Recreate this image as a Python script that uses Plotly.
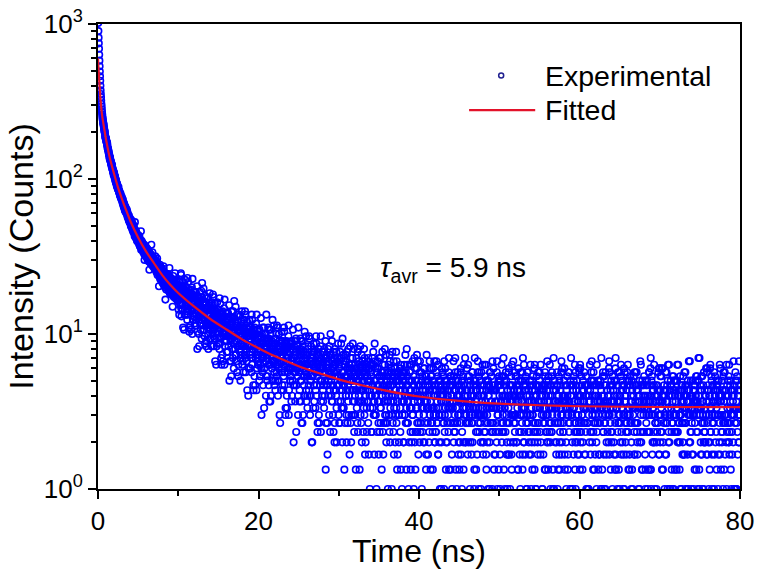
import plotly.graph_objects as go

# ---- data -------------------------------------------------------------
CHANNEL_NS = 0.05            # spacing of each channel list (ns)
OFFSET_B_NS = 0.025          # second interleaved channel list starts here
COUNTS_PER_INTENSITY = 3     # raw counts -> plotted intensity

# raw counts, channels at 0, 0.05, 0.10 ... ns
counts_a_00_10 = [
    3400, 2700, 2250, 1900, 1600, 1380, 1200, 1060, 960, 880,
    810, 760, 722, 690, 668, 640, 615, 598, 566, 552,
    548, 521, 515, 508, 476, 470, 455, 438, 430, 407,
    412, 392, 388, 380, 362, 371, 348, 341, 339, 320,
    330, 312, 315, 298, 290, 296, 281, 270, 275, 262,
    258, 266, 250, 252, 241, 236, 242, 229, 223, 230,
    219, 214, 220, 205, 201, 209, 196, 188, 199, 185,
    182, 192, 180, 176, 181, 170, 165, 174, 160, 158,
    167, 155, 149, 163, 150, 146, 154, 139, 143, 150,
    138, 133, 158, 131, 127, 137, 124, 130, 119, 131,
    121, 118, 129, 113, 122, 110, 119, 138, 108, 112,
    117, 104, 115, 101, 109, 113, 90, 106, 111, 96,
    103, 108, 94, 99, 105, 91, 97, 102, 78, 95,
    99, 86, 93, 113, 84, 90, 95, 82, 91, 87,
    80, 89, 84, 95, 86, 81, 75, 88, 79, 74,
    83, 76, 61, 81, 77, 68, 79, 73, 66, 78,
    71, 64, 76, 82, 62, 74, 67, 60, 50, 65,
    58, 70, 66, 61, 73, 63, 57, 68, 80, 55,
    67, 61, 54, 66, 59, 63, 45, 64, 58, 52,
    62, 57, 74, 51, 59, 55, 61, 50, 58, 54,
]
counts_a_10_20 = [
    57, 43, 61, 50, 67, 46, 55, 72, 39, 59,
    47, 61, 33, 55, 59, 50, 40, 67, 45, 53,
    60, 48, 42, 69, 40, 53, 46, 33, 55, 57,
    34, 51, 48, 42, 60, 30, 54, 43, 56, 39,
    47, 35, 51, 41, 56, 37, 45, 61, 31, 49,
    39, 51, 25, 46, 49, 41, 32, 57, 37, 44,
    50, 40, 34, 59, 32, 44, 38, 26, 46, 48,
    27, 43, 40, 34, 51, 24, 45, 35, 47, 32,
    39, 28, 43, 34, 48, 30, 38, 52, 25, 41,
    32, 43, 20, 38, 42, 34, 25, 48, 30, 37,
    43, 33, 28, 51, 26, 38, 32, 21, 39, 41,
    22, 37, 34, 29, 44, 19, 39, 30, 41, 27,
    33, 23, 37, 29, 41, 25, 32, 46, 20, 35,
    27, 38, 16, 33, 36, 29, 21, 42, 26, 32,
    38, 29, 24, 45, 22, 33, 27, 17, 34, 36,
    19, 32, 30, 24, 39, 15, 34, 26, 36, 22,
    29, 20, 32, 25, 37, 22, 28, 40, 17, 31,
    23, 33, 13, 29, 32, 25, 18, 37, 22, 28,
    33, 25, 21, 40, 19, 29, 24, 14, 30, 32,
    16, 28, 26, 21, 35, 13, 30, 22, 32, 19,
]
counts_a_20_30 = [
    29, 22, 15, 31, 24, 19, 38, 18, 26, 21,
    17, 33, 26, 22, 10, 28, 25, 30, 20, 16,
    24, 27, 15, 22, 33, 19, 28, 11, 26, 23,
    30, 12, 22, 27, 20, 37, 15, 20, 25, 17,
    26, 20, 13, 28, 21, 17, 34, 15, 24, 19,
    15, 30, 24, 20, 8, 25, 23, 27, 18, 14,
    21, 24, 13, 20, 31, 17, 26, 9, 24, 21,
    27, 10, 20, 25, 18, 34, 13, 18, 23, 15,
    24, 18, 11, 26, 19, 15, 32, 14, 21, 17,
    14, 27, 22, 18, 7, 23, 20, 25, 16, 12,
    19, 22, 11, 18, 28, 15, 24, 8, 22, 19,
    25, 9, 18, 23, 16, 31, 12, 17, 21, 13,
    22, 16, 10, 24, 18, 14, 29, 12, 20, 15,
    12, 25, 20, 16, 6, 21, 19, 23, 14, 11,
    18, 20, 10, 17, 26, 14, 22, 7, 20, 17,
    24, 8, 17, 21, 15, 29, 11, 15, 19, 12,
    18, 11, 20, 14, 24, 12, 17, 27, 8, 19,
    14, 21, 5, 18, 20, 15, 9, 25, 13, 17,
    22, 15, 12, 27, 11, 18, 14, 7, 19, 21,
    8, 19, 16, 13, 23, 6, 20, 14, 21, 11,
]
counts_a_30_40 = [
    19, 14, 8, 21, 15, 11, 26, 10, 17, 13,
    10, 22, 17, 14, 4, 19, 16, 20, 12, 9,
    16, 18, 8, 14, 24, 12, 19, 5, 18, 15,
    21, 6, 15, 19, 13, 26, 9, 13, 17, 11,
    16, 9, 18, 13, 21, 10, 15, 24, 7, 17,
    12, 19, 4, 16, 18, 13, 8, 22, 11, 15,
    20, 13, 10, 24, 9, 16, 13, 6, 17, 18,
    7, 16, 15, 11, 21, 5, 18, 12, 19, 10,
    17, 12, 7, 19, 14, 10, 23, 9, 15, 11,
    9, 20, 15, 12, 3, 17, 14, 18, 11, 8,
    14, 16, 7, 13, 21, 10, 17, 4, 16, 14,
    19, 5, 13, 17, 11, 24, 8, 12, 15, 9,
    14, 8, 16, 11, 19, 9, 13, 22, 6, 15,
    11, 17, 3, 14, 16, 12, 7, 20, 10, 13,
    18, 12, 9, 23, 8, 15, 11, 5, 15, 17,
    6, 15, 13, 10, 19, 4, 16, 11, 17, 9,
    16, 11, 6, 17, 12, 9, 22, 8, 14, 10,
    8, 19, 14, 11, 3, 15, 13, 17, 10, 7,
    13, 15, 6, 12, 20, 9, 16, 3, 14, 12,
    18, 4, 12, 15, 10, 22, 7, 11, 14, 8,
]
counts_a_40_50 = [
    9, 13, 17, 7, 12, 11, 15, 3, 16, 13,
    14, 6, 10, 18, 8, 12, 11, 16, 5, 22,
    11, 15, 8, 12, 15, 6, 18, 9, 13, 4,
    18, 10, 14, 8, 7, 13, 12, 10, 20, 6,
    12, 7, 14, 10, 17, 8, 12, 19, 5, 14,
    9, 15, 3, 13, 15, 11, 6, 18, 9, 12,
    16, 11, 8, 20, 7, 13, 10, 4, 14, 15,
    6, 13, 12, 9, 17, 4, 14, 10, 16, 8,
    14, 10, 5, 15, 11, 8, 20, 7, 13, 9,
    7, 17, 13, 10, 3, 14, 12, 15, 9, 6,
    12, 14, 6, 11, 18, 8, 15, 3, 13, 11,
    16, 4, 11, 14, 9, 21, 6, 10, 13, 8,
    8, 12, 16, 6, 11, 10, 14, 3, 15, 12,
    13, 5, 9, 17, 8, 12, 10, 15, 4, 21,
    10, 15, 7, 11, 14, 5, 17, 9, 12, 3,
    17, 9, 13, 8, 6, 12, 11, 10, 19, 6,
    12, 6, 14, 9, 16, 7, 11, 19, 4, 13,
    9, 15, 3, 12, 14, 10, 6, 17, 8, 11,
    16, 10, 8, 20, 7, 13, 10, 4, 13, 14,
    5, 13, 11, 8, 17, 3, 14, 9, 15, 7,
]
counts_a_50_60 = [
    14, 10, 5, 15, 11, 8, 19, 7, 12, 9,
    7, 16, 12, 10, 3, 14, 12, 15, 8, 6,
    11, 13, 5, 10, 18, 8, 14, 3, 13, 11,
    16, 4, 11, 14, 9, 20, 6, 9, 12, 7,
    8, 12, 16, 6, 11, 10, 14, 4, 15, 12,
    13, 5, 9, 17, 7, 11, 10, 15, 4, 21,
    9, 14, 6, 10, 13, 5, 16, 8, 12, 3,
    17, 9, 13, 7, 6, 12, 11, 9, 19, 5,
    11, 6, 13, 9, 16, 7, 11, 18, 4, 13,
    8, 14, 3, 12, 14, 10, 5, 17, 8, 11,
    15, 10, 7, 19, 6, 12, 9, 3, 13, 14,
    5, 13, 11, 8, 17, 4, 14, 9, 15, 7,
    14, 9, 4, 15, 10, 7, 19, 6, 12, 8,
    7, 16, 12, 10, 3, 13, 11, 14, 8, 6,
    11, 13, 5, 10, 17, 8, 14, 4, 12, 11,
    15, 4, 10, 14, 9, 20, 6, 9, 12, 7,
    8, 12, 15, 5, 11, 10, 14, 3, 14, 11,
    12, 4, 9, 17, 7, 11, 10, 15, 3, 21,
    9, 14, 6, 10, 13, 5, 16, 8, 11, 4,
    17, 8, 13, 7, 6, 12, 11, 9, 18, 5,
]
counts_a_60_70 = [
    12, 4, 18, 11, 7, 16, 9, 13, 6, 11,
    11, 8, 17, 5, 10, 14, 12, 3, 14, 8,
    14, 13, 3, 9, 12, 6, 19, 7, 10, 15,
    7, 15, 9, 14, 4, 17, 8, 11, 12, 5,
    8, 12, 6, 19, 7, 10, 15, 4, 9, 14,
    5, 8, 14, 11, 13, 3, 10, 12, 16, 7,
    11, 12, 3, 14, 8, 17, 10, 5, 13, 11,
    7, 12, 9, 6, 20, 9, 14, 10, 4, 15,
    11, 14, 3, 14, 10, 11, 5, 15, 12, 8,
    21, 4, 15, 10, 11, 7, 17, 9, 4, 12,
    3, 11, 8, 16, 5, 13, 10, 6, 14, 9,
    5, 18, 9, 11, 12, 6, 7, 13, 8, 17,
    14, 9, 4, 15, 10, 5, 16, 8, 11, 3,
    15, 4, 10, 14, 9, 10, 5, 17, 8, 11,
    17, 8, 13, 7, 6, 8, 14, 3, 12, 11,
    15, 10, 7, 19, 6, 10, 14, 4, 14, 11,
    7, 16, 12, 10, 3, 4, 14, 9, 15, 7,
    12, 4, 9, 17, 7, 7, 11, 18, 4, 12,
    9, 14, 6, 10, 13, 7, 19, 6, 12, 8,
    8, 14, 3, 12, 14, 12, 11, 9, 18, 5,
]
counts_a_70_80 = [
    11, 6, 13, 9, 16, 7, 11, 18, 4, 12,
    8, 14, 3, 12, 13, 9, 5, 17, 8, 11,
    15, 10, 7, 19, 6, 12, 9, 3, 13, 14,
    4, 12, 11, 8, 16, 3, 13, 9, 15, 7,
    13, 9, 4, 15, 10, 7, 19, 6, 12, 8,
    6, 16, 12, 9, 3, 13, 11, 14, 8, 5,
    11, 13, 5, 10, 17, 8, 14, 3, 12, 11,
    15, 3, 10, 13, 9, 20, 6, 9, 12, 7,
    8, 12, 15, 5, 11, 9, 13, 4, 14, 11,
    12, 4, 9, 16, 7, 11, 10, 15, 3, 21,
    9, 14, 6, 10, 13, 5, 16, 8, 11, 3,
    17, 8, 13, 7, 6, 12, 11, 9, 18, 5,
    14, 13, 3, 9, 12, 6, 19, 7, 10, 15,
    5, 8, 14, 11, 13, 3, 9, 12, 16, 6,
    11, 14, 4, 13, 9, 11, 5, 15, 12, 8,
    5, 18, 9, 11, 12, 6, 7, 13, 8, 17,
    11, 8, 17, 5, 9, 13, 12, 3, 14, 8,
    8, 12, 6, 19, 7, 10, 15, 4, 9, 13,
    7, 12, 9, 6, 20, 9, 13, 10, 3, 15,
    3, 11, 8, 16, 5, 13, 10, 6, 14, 9,
    10,
]

# raw counts, channels at 0.025, 0.075, 0.125 ... ns
counts_b_00_10 = [
    3050, 2450, 2080, 1740, 1480, 1290, 1120, 1010, 915, 845,
    785, 738, 705, 680, 652, 628, 606, 580, 560, 546,
    530, 524, 498, 492, 470, 461, 447, 431, 418, 414,
    398, 395, 376, 372, 366, 352, 350, 333, 330, 327,
    318, 306, 309, 294, 286, 284, 276, 280, 265, 262,
    257, 255, 246, 247, 239, 232, 236, 227, 226, 221,
    224, 210, 212, 207, 198, 203, 192, 197, 186, 190,
    186, 181, 187, 172, 175, 168, 171, 162, 166, 157,
    160, 158, 151, 147, 158, 142, 148, 144, 136, 145,
    141, 128, 136, 140, 125, 129, 133, 120, 126, 123,
    129, 116, 121, 126, 111, 118, 114, 105, 120, 109,
    110, 114, 103, 108, 112, 98, 104, 109, 100, 95,
    106, 97, 101, 90, 98, 104, 88, 96, 100, 91,
    93, 97, 85, 92, 88, 101, 83, 89, 86, 92,
    85, 79, 90, 82, 77, 87, 80, 92, 72, 84,
    78, 82, 75, 70, 84, 76, 71, 80, 74, 69,
    75, 68, 72, 79, 65, 70, 74, 62, 71, 67,
    64, 69, 73, 60, 67, 71, 58, 65, 62, 70,
    63, 57, 68, 62, 55, 66, 60, 71, 54, 61,
    59, 64, 53, 60, 66, 52, 57, 63, 49, 59,
]
counts_b_10_20 = [
    62, 51, 40, 65, 54, 47, 74, 44, 58, 50,
    43, 65, 56, 50, 32, 58, 54, 61, 46, 40,
    51, 55, 37, 48, 65, 43, 57, 31, 54, 50,
    58, 32, 47, 54, 43, 68, 37, 44, 51, 39,
    39, 48, 56, 34, 45, 43, 52, 24, 53, 47,
    47, 30, 39, 56, 35, 44, 42, 52, 28, 64,
    38, 48, 32, 41, 47, 29, 53, 36, 43, 25,
    52, 35, 44, 33, 30, 41, 39, 36, 55, 28,
    44, 35, 25, 46, 37, 31, 54, 29, 40, 33,
    28, 47, 39, 34, 19, 41, 38, 43, 31, 26,
    35, 39, 24, 33, 47, 29, 41, 19, 38, 35,
    42, 20, 33, 39, 30, 50, 25, 31, 36, 27,
    27, 34, 41, 23, 32, 30, 37, 15, 39, 33,
    34, 20, 28, 42, 24, 32, 30, 38, 18, 49,
    27, 36, 22, 29, 35, 20, 40, 25, 31, 16,
    40, 25, 33, 23, 21, 31, 29, 26, 42, 19,
    33, 25, 17, 35, 27, 22, 42, 21, 30, 24,
    20, 36, 29, 25, 12, 31, 28, 33, 23, 18,
    27, 30, 17, 25, 37, 21, 32, 13, 29, 26,
    33, 14, 25, 30, 22, 40, 18, 23, 28, 19,
]
counts_b_20_30 = [
    20, 26, 32, 16, 25, 23, 29, 9, 30, 26,
    27, 14, 21, 33, 18, 24, 23, 30, 12, 40,
    21, 28, 16, 23, 27, 14, 32, 19, 24, 11,
    32, 19, 26, 18, 15, 24, 23, 20, 34, 14,
    23, 15, 26, 19, 30, 16, 22, 33, 12, 25,
    18, 27, 9, 23, 26, 20, 13, 31, 17, 22,
    27, 20, 16, 33, 14, 23, 19, 10, 24, 26,
    12, 23, 21, 17, 29, 9, 25, 18, 26, 15,
    16, 21, 27, 12, 20, 18, 24, 6, 25, 21,
    22, 11, 17, 28, 14, 20, 18, 25, 9, 33,
    17, 24, 13, 19, 23, 11, 27, 15, 20, 8,
    27, 16, 22, 14, 12, 20, 19, 17, 29, 11,
    19, 12, 22, 16, 25, 13, 18, 28, 9, 21,
    15, 23, 6, 19, 22, 16, 10, 26, 14, 18,
    23, 17, 13, 29, 12, 19, 16, 8, 20, 22,
    9, 20, 18, 14, 25, 7, 21, 15, 23, 12,
    13, 18, 23, 10, 17, 15, 21, 4, 22, 18,
    19, 8, 14, 24, 12, 17, 16, 22, 7, 30,
    14, 21, 11, 16, 20, 9, 23, 13, 17, 6,
    24, 13, 19, 12, 10, 17, 16, 14, 26, 9,
]
counts_b_30_40 = [
    18, 8, 13, 23, 11, 16, 15, 21, 6, 28,
    14, 20, 10, 15, 19, 8, 22, 12, 16, 6,
    23, 13, 18, 11, 9, 17, 15, 13, 25, 8,
    16, 9, 18, 13, 21, 11, 15, 24, 7, 17,
    12, 19, 4, 16, 18, 13, 8, 23, 11, 15,
    20, 14, 11, 25, 9, 16, 13, 6, 17, 19,
    7, 17, 15, 11, 21, 5, 18, 12, 19, 10,
    11, 15, 20, 8, 14, 13, 18, 3, 19, 15,
    16, 7, 12, 21, 10, 14, 13, 19, 5, 26,
    12, 18, 9, 13, 17, 7, 20, 11, 14, 5,
    21, 11, 16, 10, 8, 15, 13, 12, 23, 7,
    14, 8, 16, 11, 19, 9, 13, 22, 6, 15,
    11, 17, 3, 14, 17, 12, 7, 20, 10, 14,
    18, 12, 9, 23, 8, 15, 11, 5, 16, 17,
    6, 15, 13, 10, 20, 4, 16, 11, 17, 9,
    9, 14, 18, 7, 13, 12, 16, 3, 17, 14,
    15, 6, 11, 19, 9, 13, 12, 17, 4, 24,
    11, 16, 8, 12, 15, 6, 19, 10, 13, 4,
    19, 10, 15, 9, 7, 14, 12, 11, 21, 6,
    13, 7, 15, 10, 18, 8, 12, 20, 5, 14,
]
counts_b_40_50 = [
    14, 6, 20, 12, 8, 17, 10, 15, 7, 13,
    12, 9, 18, 6, 11, 15, 13, 4, 16, 10,
    15, 14, 5, 10, 13, 7, 20, 9, 11, 16,
    8, 16, 10, 15, 4, 18, 9, 12, 14, 6,
    9, 13, 7, 20, 8, 11, 16, 5, 10, 15,
    6, 9, 15, 12, 14, 3, 11, 13, 17, 8,
    12, 13, 3, 15, 9, 18, 11, 6, 14, 12,
    8, 13, 10, 7, 21, 10, 14, 11, 4, 16,
    12, 15, 3, 14, 10, 11, 6, 16, 13, 8,
    21, 4, 15, 11, 12, 8, 17, 9, 5, 13,
    4, 12, 9, 17, 5, 14, 11, 7, 15, 10,
    6, 19, 10, 11, 12, 6, 8, 13, 9, 18,
    13, 5, 19, 11, 8, 16, 9, 14, 6, 12,
    11, 8, 17, 6, 10, 14, 12, 3, 15, 9,
    14, 13, 4, 10, 13, 7, 20, 8, 10, 16,
    7, 15, 9, 14, 3, 17, 9, 11, 13, 5,
    9, 12, 7, 19, 8, 11, 15, 5, 10, 14,
    6, 8, 15, 12, 14, 3, 10, 13, 17, 7,
    11, 13, 3, 14, 8, 18, 10, 5, 13, 11,
    7, 13, 10, 6, 20, 9, 14, 11, 4, 16,
]
counts_b_50_60 = [
    12, 15, 3, 14, 10, 11, 6, 16, 12, 8,
    21, 4, 15, 10, 11, 7, 17, 9, 5, 13,
    3, 12, 8, 17, 5, 14, 11, 6, 14, 9,
    5, 19, 9, 11, 12, 6, 8, 13, 9, 17,
    16, 9, 14, 6, 12, 13, 4, 18, 11, 7,
    14, 12, 3, 15, 9, 11, 8, 17, 5, 10,
    6, 19, 7, 10, 15, 14, 13, 3, 9, 12,
    17, 8, 11, 13, 5, 7, 15, 9, 14, 3,
    10, 15, 4, 9, 14, 8, 12, 6, 19, 7,
    3, 10, 12, 16, 7, 6, 8, 14, 11, 13,
    17, 10, 5, 13, 11, 11, 13, 3, 14, 8,
    9, 14, 10, 4, 16, 7, 12, 9, 6, 20,
    11, 6, 16, 12, 8, 11, 14, 3, 14, 10,
    7, 17, 9, 4, 13, 21, 3, 15, 10, 11,
    13, 10, 6, 14, 9, 3, 11, 8, 16, 5,
    6, 7, 13, 8, 17, 5, 18, 9, 11, 12,
    7, 11, 18, 4, 12, 11, 6, 13, 9, 16,
    10, 5, 17, 8, 11, 8, 14, 3, 12, 14,
    12, 9, 3, 13, 14, 15, 10, 7, 19, 6,
    3, 14, 9, 15, 7, 5, 12, 11, 8, 17,
]
counts_b_60_70 = [
    7, 19, 6, 12, 8, 14, 9, 4, 15, 10,
    13, 11, 14, 8, 5, 7, 16, 12, 10, 3,
    8, 14, 3, 12, 11, 11, 13, 5, 10, 17,
    20, 6, 9, 12, 7, 15, 4, 10, 14, 9,
    10, 14, 3, 14, 11, 8, 12, 15, 5, 11,
    11, 10, 15, 3, 21, 12, 4, 9, 17, 7,
    5, 16, 8, 11, 3, 9, 14, 6, 10, 13,
    12, 11, 9, 18, 5, 17, 8, 13, 7, 6,
    11, 7, 16, 9, 13, 6, 11, 12, 4, 18,
    5, 10, 14, 12, 3, 14, 8, 11, 8, 17,
    9, 12, 6, 19, 7, 10, 15, 14, 13, 3,
    14, 3, 17, 8, 11, 12, 5, 7, 15, 9,
    19, 7, 10, 15, 4, 9, 14, 8, 12, 6,
    11, 13, 3, 10, 12, 16, 7, 5, 8, 14,
    14, 8, 17, 10, 5, 13, 11, 11, 12, 3,
    6, 20, 9, 14, 10, 4, 15, 7, 12, 9,
    14, 10, 11, 5, 15, 12, 8, 11, 14, 3,
    10, 11, 7, 17, 9, 4, 12, 21, 3, 15,
    16, 5, 13, 10, 6, 14, 9, 3, 11, 8,
    11, 12, 6, 7, 13, 8, 17, 5, 18, 9,
]
counts_b_70_80 = [
    9, 16, 7, 10, 18, 4, 12, 11, 6, 13,
    12, 13, 9, 5, 17, 8, 11, 8, 14, 3,
    19, 6, 12, 9, 3, 13, 14, 15, 10, 7,
    8, 16, 3, 13, 9, 15, 7, 4, 12, 11,
    15, 10, 7, 19, 6, 12, 8, 13, 9, 4,
    9, 3, 13, 11, 14, 8, 5, 6, 16, 12,
    10, 17, 8, 14, 3, 12, 10, 11, 13, 5,
    13, 9, 20, 6, 9, 12, 7, 15, 3, 10,
    5, 10, 9, 13, 3, 14, 11, 8, 12, 15,
    16, 7, 11, 10, 15, 3, 21, 12, 4, 9,
    10, 13, 5, 16, 8, 11, 3, 9, 14, 6,
    7, 6, 12, 10, 9, 18, 5, 17, 8, 13,
    13, 6, 11, 12, 4, 18, 10, 7, 16, 9,
    3, 14, 8, 11, 8, 17, 5, 9, 13, 12,
    7, 10, 15, 14, 13, 3, 9, 12, 6, 19,
    11, 12, 4, 7, 15, 9, 13, 3, 16, 8,
    4, 9, 13, 8, 12, 6, 19, 7, 10, 15,
    12, 16, 6, 5, 8, 14, 11, 13, 3, 9,
    5, 13, 11, 10, 12, 3, 14, 8, 17, 10,
    10, 3, 15, 7, 12, 9, 6, 20, 9, 13,
]

# fitted decay curve
fit_time_ns = [0, 0.25, 0.5, 0.75, 1, 1.5, 2, 2.5, 3, 3.5, 4, 5, 6, 7, 8, 9, 10,
               12, 14, 16, 18, 20, 22, 25, 28, 30, 33, 36, 40, 45, 50, 55, 60, 70, 80]
fit_intensity = [600, 360, 260, 215, 180, 135, 108, 88, 74, 63, 54, 42, 34, 28.5, 24,
                 20.8, 18.4, 15.0, 12.5, 10.7, 9.2, 8.1, 7.2, 6.2, 5.5, 5.1, 4.65, 4.3,
                 3.95, 3.7, 3.55, 3.47, 3.42, 3.38, 3.37]

x_tick_vals = [0, 20, 40, 60, 80]
x_minor_vals = [10, 30, 50, 70]
y_tick_vals = [1, 10, 100, 1000]
y_tick_text = ["10<sup>0</sup>", "10<sup>1</sup>", "10<sup>2</sup>", "10<sup>3</sup>"]
y_minor_vals = [2, 3, 4, 5, 6, 7, 8, 9, 20, 30, 40, 50, 60, 70, 80, 90,
                200, 300, 400, 500, 600, 700, 800, 900]

legend_labels = ["Experimental", "Fitted"]
tau_text = "<i>τ</i><sub>avr</sub> = 5.9 ns"

# ---- figure -----------------------------------------------------------
counts_a = (counts_a_00_10 + counts_a_10_20 + counts_a_20_30 + counts_a_30_40 +
            counts_a_40_50 + counts_a_50_60 + counts_a_60_70 + counts_a_70_80)
counts_b = (counts_b_00_10 + counts_b_10_20 + counts_b_20_30 + counts_b_30_40 +
            counts_b_40_50 + counts_b_50_60 + counts_b_60_70 + counts_b_70_80)
intensity_a = [c / COUNTS_PER_INTENSITY for c in counts_a]
intensity_b = [c / COUNTS_PER_INTENSITY for c in counts_b]

BLUE = "#0000ff"
RED = "#e3122a"
FONT = "Arial, Liberation Sans, sans-serif"
marker_style = dict(symbol="circle-open", size=6.5, color=BLUE, line=dict(width=1.6, color=BLUE))

fig = go.Figure()
fig.add_trace(go.Scatter(
    x0=0, dx=CHANNEL_NS, y=intensity_a, mode="markers", name=legend_labels[0],
    marker=marker_style, showlegend=False,
))
fig.add_trace(go.Scatter(
    x0=OFFSET_B_NS, dx=CHANNEL_NS, y=intensity_b, mode="markers", name=legend_labels[0],
    marker=marker_style, showlegend=False,
))
fig.add_trace(go.Scatter(
    x=fit_time_ns, y=fit_intensity, mode="lines", name=legend_labels[1],
    line=dict(color=RED, width=2.2, shape="spline", smoothing=0.8),
    showlegend=False,
))

axis_common = dict(
    ticks="outside", ticklen=8, tickwidth=2, tickcolor="black",
    showline=True, linewidth=2, linecolor="black", mirror=True,
    showgrid=False, zeroline=False, tickfont=dict(size=26, color="black"),
)

fig.update_xaxes(
    range=[0, 80], tickvals=x_tick_vals, automargin=False,
    title=dict(text="Time (ns)", font=dict(size=32), standoff=0),
    minor=dict(tickvals=x_minor_vals, ticks="outside", ticklen=5, tickwidth=2, tickcolor="black"),
    **axis_common,
)
fig.update_yaxes(
    type="log", range=[0, 3], tickvals=y_tick_vals, ticktext=y_tick_text, automargin=False,
    title=dict(text="Intensity (Counts)", font=dict(size=34), standoff=0),
    minor=dict(tickvals=y_minor_vals, ticks="outside", ticklen=5, tickwidth=2, tickcolor="black"),
    **axis_common,
)

# hand-placed legend (paper coordinates)
fig.add_shape(type="line", xref="paper", yref="paper", x0=0.578, x1=0.681, y0=0.815, y1=0.815,
              line=dict(color=RED, width=2.2))
fig.add_shape(type="circle", xref="paper", yref="paper", xsizemode="pixel", ysizemode="pixel",
              xanchor=0.628, yanchor=0.889, x0=-2.5, x1=2.5, y0=-2.5, y1=2.5,
              line=dict(color="#202090", width=1.5))
fig.add_annotation(x=0.693, y=0.889, xref="paper", yref="paper", text=legend_labels[0],
                   showarrow=False, xanchor="left", yanchor="middle", font=dict(size=28.5))
fig.add_annotation(x=0.693, y=0.815, xref="paper", yref="paper", text=legend_labels[1],
                   showarrow=False, xanchor="left", yanchor="middle", font=dict(size=28.5))
fig.add_annotation(x=0.436, y=0.471, xref="paper", yref="paper", text=tau_text,
                   showarrow=False, xanchor="left", yanchor="middle", font=dict(size=28))

fig.update_layout(
    width=761, height=569,
    margin=dict(l=98, r=21, t=24, b=80),
    paper_bgcolor="white", plot_bgcolor="white",
    font=dict(family=FONT, color="black"),
)

fig.write_html(
    "out.html",
    config={"displayModeBar": False},
    post_script="document.body.style.margin='0';document.body.style.overflow='hidden';",
)
